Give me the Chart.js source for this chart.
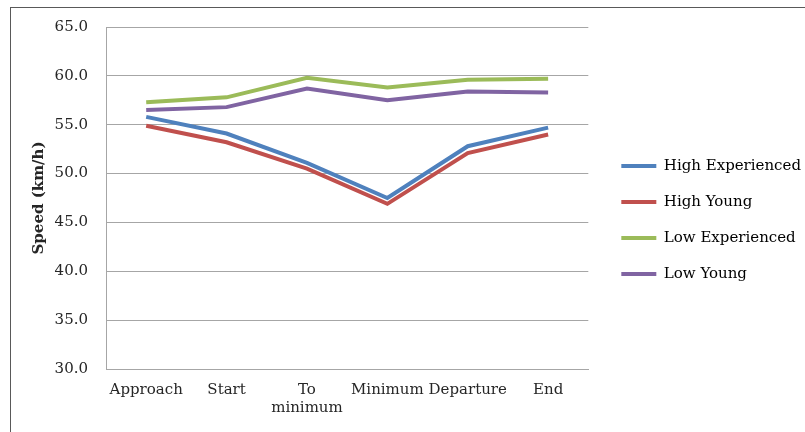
<!DOCTYPE html>
<html>
<head>
<meta charset="utf-8">
<script src="https://cdn.jsdelivr.net/npm/chart.js@4/dist/chart.umd.min.js"></script>
<style>
  html, body { margin: 0; padding: 0; background: #fff; overflow: hidden; }
  #frame { position: absolute; left: 10px; top: 7px; width: 900px; height: 600px; border: 1px solid #595959; }
  #wrap { position: absolute; left: 0; top: 0; width: 805px; height: 432px; }
</style>
</head>
<body>
<div id="frame"></div>
<div id="wrap"><canvas id="speedChart" width="805" height="432"></canvas></div>
<script>
'use strict'
var stages = ['Approach', 'Start', ['To', 'minimum'], 'Minimum', 'Departure', 'End'];
var highExperienced = [55.8, 54.1, 51.1, 47.5, 52.8, 54.7];
var highYoung = [54.9, 53.2, 50.5, 46.9, 52.1, 54.0];
var lowExperienced = [57.3, 57.8, 59.8, 58.8, 59.6, 59.7];
var lowYoung = [56.5, 56.8, 58.7, 57.5, 58.4, 58.3];
var yTicks = [30, 35, 40, 45, 50, 55, 60, 65];

var fontFamily = '"DejaVu Serif", "Liberation Serif", serif';
Chart.defaults.font.family = fontFamily;
Chart.defaults.font.size = 15;
Chart.defaults.color = '#262626';

function lineSet(label, data, color) {
  return {
    label: label,
    data: data,
    borderColor: color,
    backgroundColor: color,
    borderWidth: 4,
    pointRadius: 0,
    tension: 0,
    fill: false
  };
}

// push the legend a little away from the plot, leaving the plot width alone
var legendShift = {
  id: 'legendShift',
  afterLayout: function (chart) {
    var lg = chart.legend;
    if (!lg) return;
    lg.left += 12;
    lg.right += 12;
  }
};

function drawChart() {
  var ctx = document.getElementById('speedChart').getContext('2d');
  new Chart(ctx, {
    type: 'line',
    data: {
      labels: stages,
      datasets: [
        lineSet('High Experienced', highExperienced, '#4F81BD'),
        lineSet('High Young', highYoung, '#C0504D'),
        lineSet('Low Experienced', lowExperienced, '#9BBB59'),
        lineSet('Low Young', lowYoung, '#8064A2')
      ]
    },
    plugins: [legendShift],
    options: {
      responsive: false,
      animation: false,
      layout: { padding: { top: 26, right: 6, bottom: 18, left: 30 } },
      plugins: {
        tooltip: { enabled: false },
        legend: {
          position: 'right',
          align: 'center',
          maxWidth: 260,
          labels: {
            boxWidth: 35,
            boxHeight: 4,
            padding: 21,
            font: { size: 15, family: fontFamily },
            color: '#262626',
            generateLabels: function (c) {
              return c.data.datasets.map(function (ds, i) {
                return {
                  text: ds.label,
                  fillStyle: ds.borderColor,
                  strokeStyle: ds.borderColor,
                  lineWidth: 0,
                  datasetIndex: i
                };
              });
            }
          }
        }
      },
      scales: {
        x: {
          offset: true,
          grid: { display: false, drawTicks: false },
          border: { display: true, color: '#A6A6A6', width: 1 },
          ticks: { padding: 12, maxRotation: 0, autoSkip: false, color: '#262626' },
          afterFit: function (scale) { scale.height = 45; }
        },
        y: {
          min: 30,
          max: 65,
          afterBuildTicks: function (scale) {
            scale.ticks = yTicks.map(function (v) { return { value: v }; });
          },
          grid: { color: '#A6A6A6', lineWidth: 1, drawTicks: false },
          border: { display: true, color: '#A6A6A6', width: 1 },
          ticks: {
            padding: 18,
            color: '#262626',
            callback: function (v) { return Number(v).toFixed(1); }
          },
          title: {
            display: true,
            text: 'Speed (km/h)',
            color: '#262626',
            font: { size: 15, weight: 'bold', family: fontFamily },
            padding: { top: 0, bottom: 8 }
          },
          afterFit: function (scale) { scale.width = 76; }
        }
      }
    }
  });
}

if (document.fonts && document.fonts.load) {
  Promise.all([
    document.fonts.load('15px "DejaVu Serif"'),
    document.fonts.load('bold 15px "DejaVu Serif"')
  ]).then(drawChart, drawChart);
} else {
  drawChart();
}
</script>
</body>
</html>
